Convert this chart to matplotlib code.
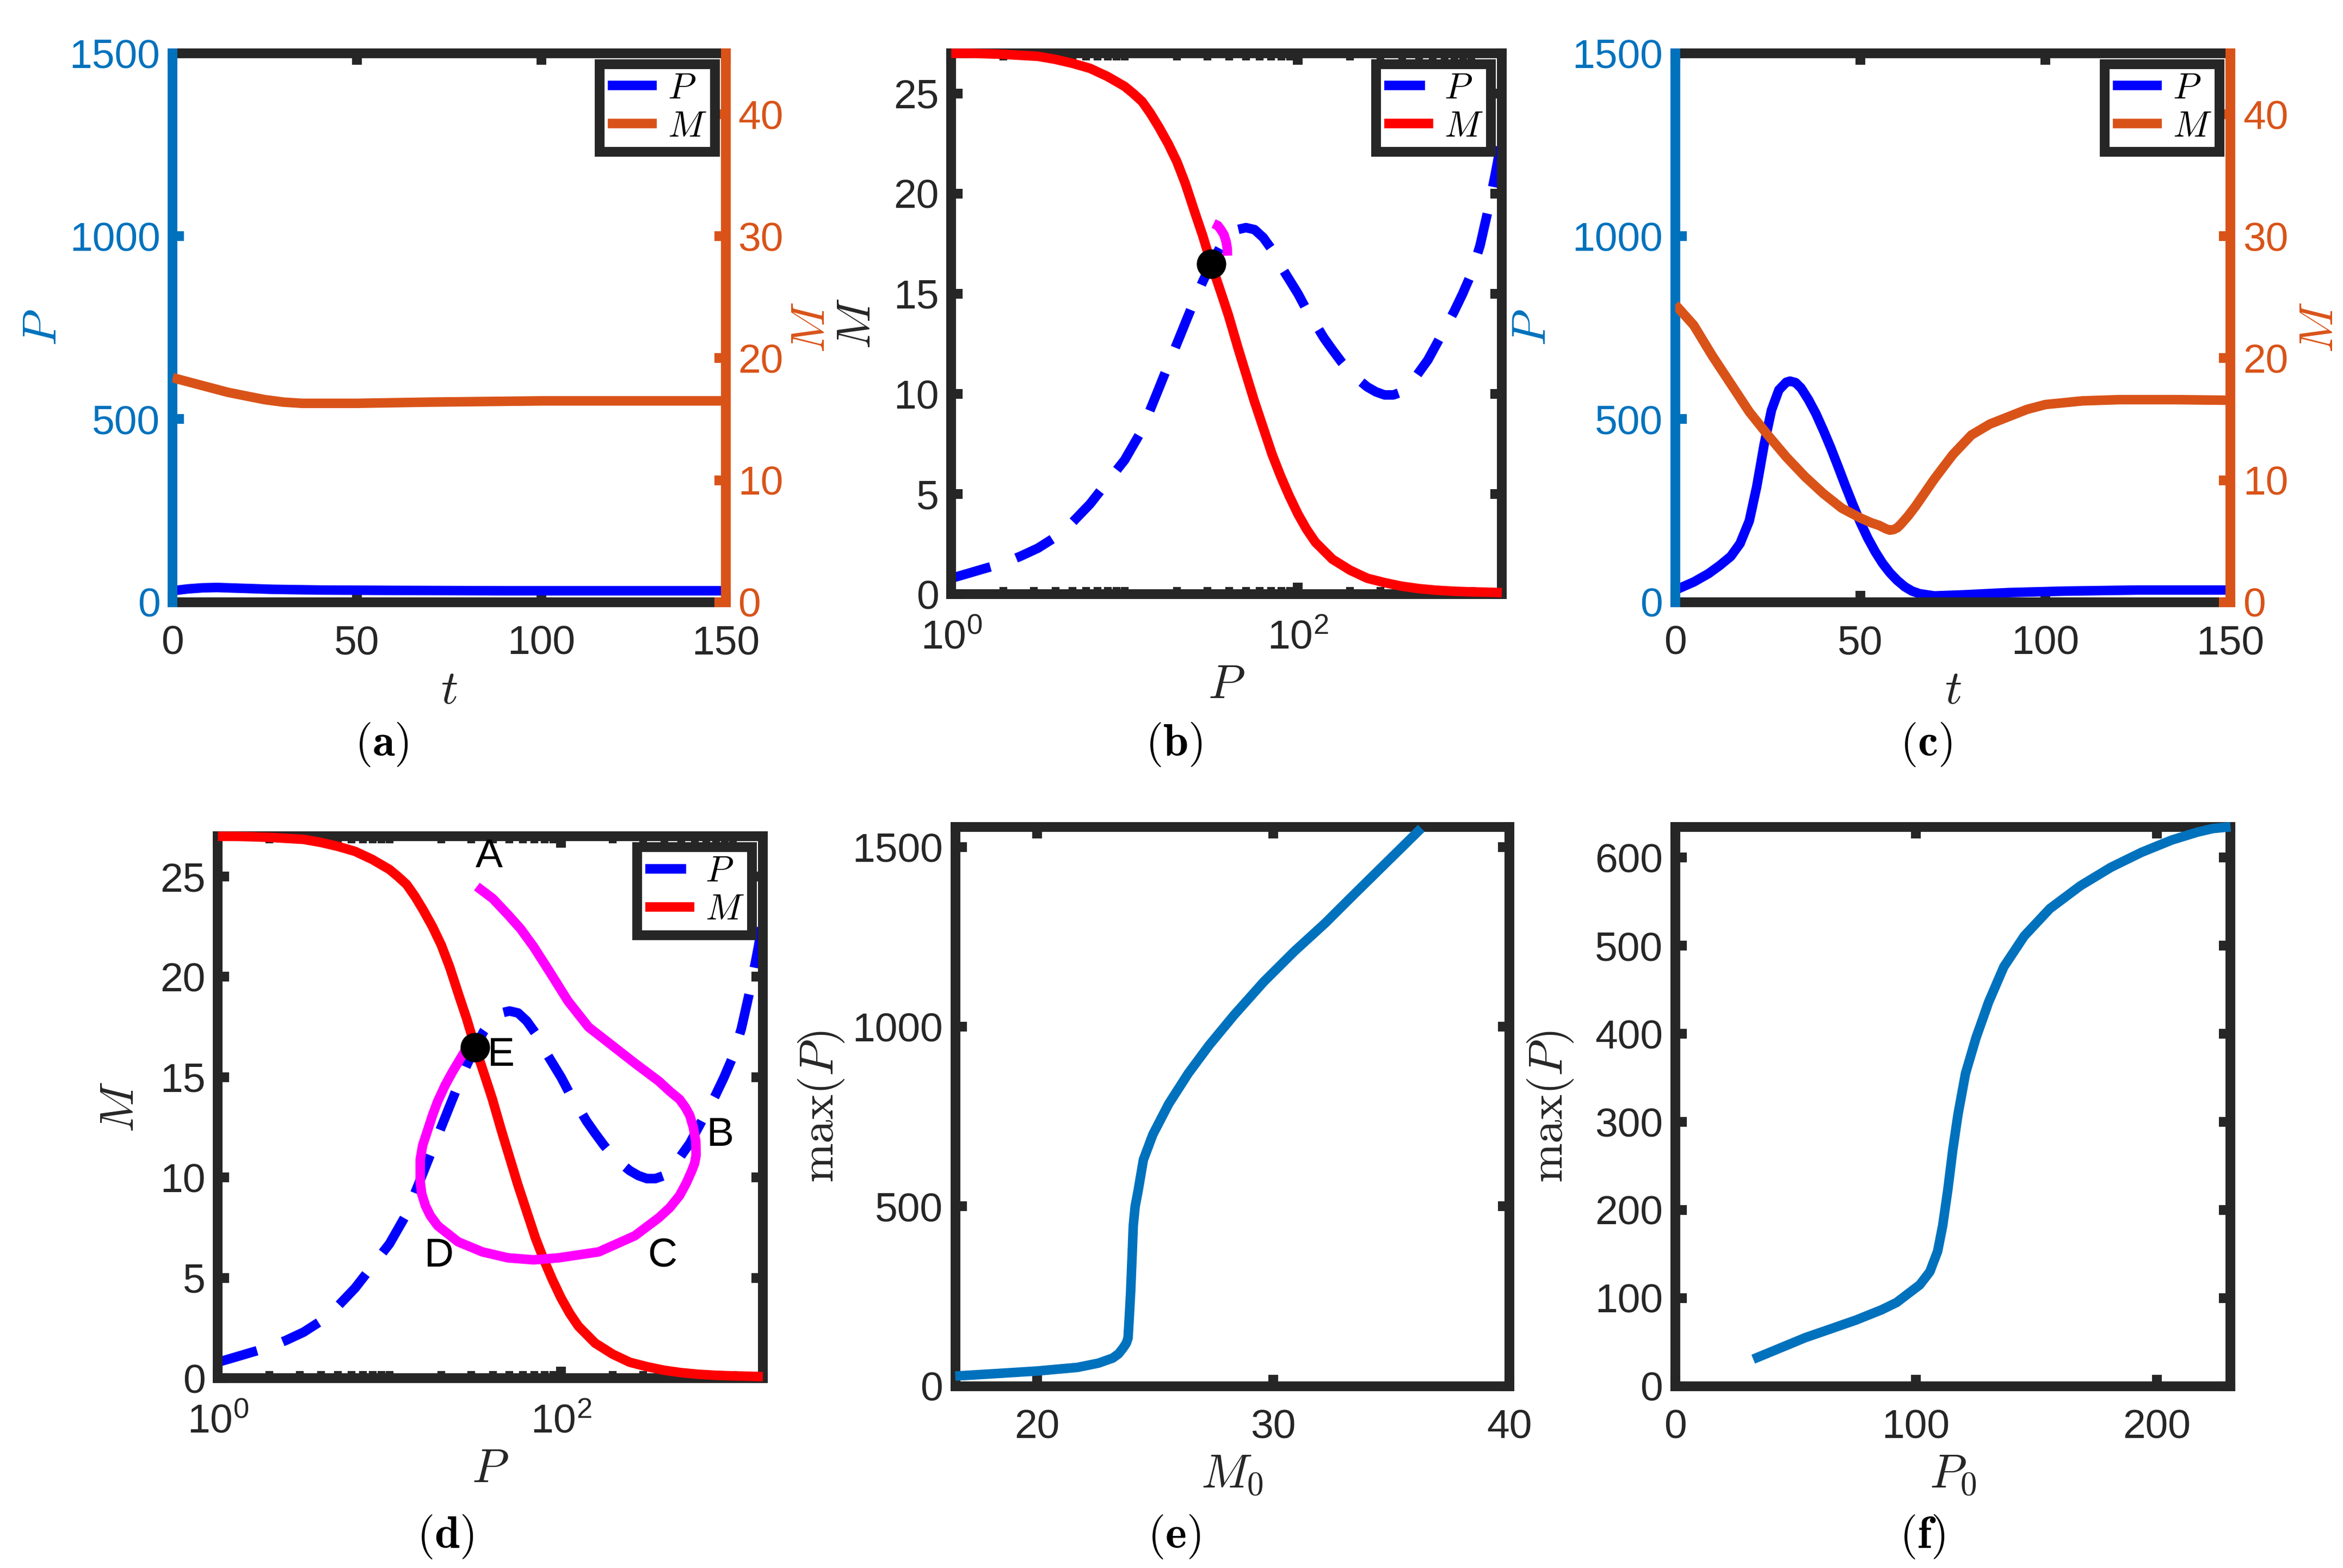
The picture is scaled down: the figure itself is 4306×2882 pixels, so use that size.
import matplotlib
matplotlib.use("Agg")
import matplotlib.pyplot as plt
import numpy as np
from matplotlib.ticker import LogLocator, NullFormatter, FuncFormatter

# ---------------- data ----------------
# (a) time course, near the steady state
A_T_P = [0, 4, 8, 12, 18, 27, 40, 60, 90, 120, 150]
A_P = [31, 36, 39, 40, 38, 35, 33, 32, 31, 31, 31]
A_T_M = [0, 5, 10, 15, 20, 25, 30, 35, 40, 50, 70, 100, 150]
A_M = [18.4, 18.0, 17.6, 17.2, 16.9, 16.6, 16.4, 16.3, 16.3, 16.3, 16.4, 16.5, 16.5]

# (c) time course, excursion
C_T_P = [0, 5, 9, 12, 15, 17.5, 20, 22, 24, 26, 28, 30, 31, 32.5, 34, 36, 38, 40, 42,
         44, 46, 48, 50, 52, 54, 56, 58, 60, 62, 64, 66, 70, 78, 90, 105, 125, 150]
C_P = [33, 55, 78, 100, 125, 160, 222, 315, 430, 525, 580, 601, 604, 600, 585, 553,
       515, 470, 422, 370, 317, 266, 218, 175, 138, 106, 80, 59, 42, 30, 23, 17, 20,
       26, 30, 33, 33]
C_T_M = [0, 5, 10, 15, 20, 25, 30, 35, 40, 45, 50, 53, 55, 57, 58, 59, 60, 61, 63, 65,
         67.5, 70, 75, 80, 85, 90, 95, 100, 110, 120, 135, 150]
C_M = [24.4, 22.7, 20.2, 17.9, 15.6, 13.7, 11.9, 10.3, 8.9, 7.7, 6.9, 6.5, 6.3, 6.0,
       5.9, 5.95, 6.1, 6.4, 7.1, 7.9, 9.0, 10.1, 12.1, 13.7, 14.6, 15.2, 15.8, 16.2,
       16.5, 16.6, 16.6, 16.55]

# (b), (d) nullclines in the (P, M) plane
NC_M_P = [1, 1.26, 1.58, 2.0, 2.51, 3.16, 3.98, 5.01, 6.31, 7.94, 10, 11.2, 12.6,
          14.1, 15.8, 17.8, 20, 22.4, 25.1, 28.2, 31.6, 35.5, 39.8, 44.7, 50.1, 56.2,
          63.1, 70.8, 79.4, 89.1, 100, 112, 126, 158, 200, 251, 316, 398, 501, 631,
          794, 1000, 1259, 1500]
NC_M_M = [27.0, 27.0, 26.98, 26.95, 26.9, 26.85, 26.7, 26.5, 26.25, 25.85, 25.35,
          25.0, 24.6, 24.0, 23.3, 22.5, 21.6, 20.5, 19.2, 17.9, 16.5, 15.2, 13.9, 12.4,
          11.0, 9.6, 8.3, 7.0, 5.9, 4.9, 4.0, 3.25, 2.6, 1.75, 1.2, 0.8, 0.58, 0.4,
          0.28, 0.2, 0.15, 0.12, 0.1, 0.08]
NC_P_P = [1, 1.26, 1.58, 2.0, 2.51, 3.16, 3.98, 5.01, 6.31, 7.94, 10, 12.6, 15.8, 20,
          25.1, 28.2, 31.6, 35.5, 39.8, 44.7, 50.1, 56.2, 63.1, 70.8, 79.4, 89.1, 100,
          112, 126, 141, 158, 178, 200, 224, 251, 282, 316, 355, 398, 447, 501, 562,
          631, 708, 794, 891, 1000, 1122, 1259, 1413, 1500]
NC_P_M = [0.8, 1.05, 1.3, 1.55, 1.9, 2.3, 2.85, 3.6, 4.5, 5.6, 6.7, 8.2, 10.3, 12.5,
          14.6, 15.6, 16.5, 17.3, 17.9, 18.2, 18.3, 18.2, 17.8, 17.2, 16.4, 15.7, 15.0,
          14.2, 13.5, 12.8, 12.2, 11.6, 11.1, 10.7, 10.35, 10.1, 9.95, 9.95, 10.1,
          10.5, 11.1, 11.7, 12.5, 13.3, 14.1, 15.0, 16.0, 17.4, 19.3, 21.5, 22.8]
FIXED_P, FIXED_M = 31.6, 16.5

# short trajectory in (b)
B_TRAJ_P = [32.6, 34.5, 35.9, 37.4, 38.5, 39.1, 39.2]
B_TRAJ_M = [18.5, 18.4, 18.2, 17.95, 17.6, 17.25, 16.9]

# large excursion loop in (d)
D_TRAJ_P = [32.3, 40.0, 49.0, 58.0, 69.2, 85.1, 109.6, 144.5, 190.5, 269, 371.5, 430,
            490, 530, 562, 590, 610, 612, 600, 575, 535, 490, 430, 371.5, 269, 166,
            96.6, 69.2, 49.0, 34.7, 25.1, 19.1, 17.3, 16.2, 15.4, 15.1, 15.1, 15.6,
            16.6, 17.8, 19.1, 21.1, 23.4, 27.5, 30.5]
D_TRAJ_M = [24.5, 23.9, 23.1, 22.4, 21.5, 20.3, 18.8, 17.5, 16.7, 15.7, 14.8, 14.3,
            13.9, 13.5, 13.1, 12.5, 11.8, 11.1, 10.7, 10.3, 9.7, 9.1, 8.5, 8.0, 7.1,
            6.3, 6.0, 5.9, 6.0, 6.3, 6.8, 7.6, 8.1, 8.6, 9.2, 9.8, 10.9, 11.6, 12.3,
            13.1, 13.8, 14.6, 15.3, 16.3, 16.7]
D_LABELS = ["A", "B", "C", "D", "E"]
D_LABEL_P = [38, 851, 389, 19.5, 44.7]
D_LABEL_M = [26.0, 12.1, 6.1, 6.1, 16.1]

# (e) peak P vs initial M
E_M0 = [16.53, 18.3, 20, 21.7, 22.6, 23.2, 23.45, 23.64, 23.78, 23.85, 23.9, 23.96,
        24.02, 24.07, 24.15, 24.28, 24.5, 24.9, 25.57, 26.4, 27.28, 28.35, 29.6, 30.9,
        32.2, 33.5, 34.8, 36.27]
E_MAXP = [28, 35, 42, 52, 64, 78, 90, 106, 120, 134, 190, 262, 360, 446, 500, 545, 630,
          700, 785, 870, 948, 1033, 1125, 1210, 1288, 1373, 1457, 1552]

# (f) peak P vs initial P
F_P0 = [32.4, 43.4, 54, 64.6, 75.1, 85.7, 92, 96.3, 101.6, 105.8, 109, 111.1, 113.2,
        115.3, 117.5, 120.6, 124.9, 130.2, 136.5, 145, 155.6, 168.3, 181, 193.7, 206.3,
        217, 223.3, 230.7]
F_MAXP = [30.6, 43, 55, 65, 75, 86.6, 95, 104, 115, 130, 153, 182, 222, 268, 309, 355,
          395, 436, 476, 511, 542, 568, 589, 606, 620, 629, 633, 635]

# ---------------- style ----------------
AX_C = "#262626"
MBLUE = "#0072BD"
MORANGE = "#D95319"
LW = 4.2
SPW = 4.3
TICK_L = 5.0
TICK_FS = 18
LABEL_FS = 21
LEG_FS = 16
DASH = (18, 12)
XPAD = 10
YPAD = 5.5

plt.rcParams.update({
    "font.family": ["Liberation Sans", "DejaVu Sans"],
    "mathtext.fontset": "cm",
    "lines.scale_dashes": False,
    "lines.solid_capstyle": "butt",
    "lines.dash_capstyle": "butt",
    "lines.solid_joinstyle": "round",
})

fig = plt.figure(figsize=(4306 / 300, 2882 / 300), dpi=300)


def style_box(ax):
    for sp in ax.spines.values():
        sp.set_linewidth(SPW)
        sp.set_color(AX_C)
    ax.tick_params(which="major", direction="in", top=True, right=True,
                   length=TICK_L, width=SPW, colors=AX_C, labelsize=TICK_FS, pad=YPAD)
    ax.tick_params(which="minor", direction="in", top=True, right=True,
                   length=3.2, width=SPW * 0.8, colors=AX_C)
    ax.tick_params(axis="x", which="major", pad=XPAD)


def legend(ax, handles):
    leg = ax.legend(handles=handles, loc="upper right", fontsize=LEG_FS,
                    handlelength=1.35, handletextpad=0.3, borderpad=0.22,
                    labelspacing=0.12, borderaxespad=0.3, fancybox=False,
                    framealpha=1, edgecolor=AX_C)
    leg.get_frame().set_linewidth(SPW)
    return leg


def time_panel(rect, tP, P, tM, M, lpad_left, lpad_right):
    ax = fig.add_axes(rect)
    ax2 = ax.twinx()
    lp, = ax.plot(tP, P, color="blue", lw=LW, label="$P$")
    lm, = ax2.plot(tM, M, color=MORANGE, lw=LW, label="$M$")
    ax.set_xlim(0, 150)
    ax.set_ylim(0, 1500)
    ax2.set_ylim(0, 45)
    ax.set_xticks([0, 50, 100, 150])
    ax.set_yticks([0, 500, 1000, 1500])
    ax2.set_yticks([0, 10, 20, 30, 40])

    ax.spines["right"].set_visible(False)
    for k in ("top", "bottom"):
        ax.spines[k].set_color(AX_C)
        ax.spines[k].set_linewidth(SPW)
        ax2.spines[k].set_visible(False)
    ax.spines["left"].set_color(MBLUE)
    ax.spines["left"].set_linewidth(SPW)
    ax.spines["left"].set_zorder(3)
    ax2.spines["left"].set_visible(False)
    ax2.spines["right"].set_color(MORANGE)
    ax2.spines["right"].set_linewidth(SPW)

    ax.tick_params(axis="x", direction="in", top=True, bottom=True, length=TICK_L,
                   width=SPW, colors=AX_C, labelsize=TICK_FS, pad=XPAD)
    ax.tick_params(axis="y", direction="in", left=True, right=False, length=TICK_L,
                   width=SPW, colors=MBLUE, labelsize=TICK_FS, pad=YPAD)
    ax2.tick_params(axis="y", direction="in", right=True, left=False, length=TICK_L,
                    width=SPW, colors=MORANGE, labelsize=TICK_FS, pad=YPAD)

    ax.set_xlabel("$t$", fontsize=LABEL_FS, color=AX_C, labelpad=3)
    ax.set_ylabel("$P$", fontsize=LABEL_FS, color=MBLUE, labelpad=lpad_left)
    ax2.set_ylabel("$M$", fontsize=LABEL_FS, color=MORANGE, labelpad=lpad_right)
    legend(ax2, [lp, lm])
    return ax, ax2


def log_label(v, pos):
    return r"$\mathregular{10^{%d}}$" % int(round(np.log10(v)))


def phase_panel(rect, trajP, trajM, lpad):
    ax = fig.add_axes(rect)
    lb, = ax.plot(NC_P_P, NC_P_M, color="blue", lw=LW, dashes=DASH, label="$P$")
    lr, = ax.plot(NC_M_P, NC_M_M, color="red", lw=LW, label="$M$", zorder=3,
                  clip_on=False)
    ax.plot(trajP, trajM, color="magenta", lw=LW, zorder=3.2)
    ax.plot([FIXED_P], [FIXED_M], "o", color="black", markersize=12, zorder=4)
    ax.set_xscale("log")
    ax.set_xlim(1, 1500)
    ax.set_ylim(0, 27)
    ax.xaxis.set_major_locator(LogLocator(base=100))
    ax.xaxis.set_major_formatter(FuncFormatter(log_label))
    ax.xaxis.set_minor_locator(LogLocator(base=10, subs=np.arange(1, 10), numticks=30))
    ax.xaxis.set_minor_formatter(NullFormatter())
    ax.set_yticks([0, 5, 10, 15, 20, 25])
    style_box(ax)
    ax.tick_params(axis="x", which="major", pad=11)
    ax.set_xlabel("$P$", fontsize=LABEL_FS, color=AX_C, labelpad=3)
    ax.set_ylabel("$M$", fontsize=LABEL_FS, color=AX_C, labelpad=lpad)
    legend(ax, [lb, lr])
    return ax


# (a)
time_panel([0.0737, 0.616, 0.236, 0.350], A_T_P, A_P, A_T_M, A_M, 1.5, 3)
# (b)
phase_panel([0.406, 0.621, 0.235, 0.345], B_TRAJ_P, B_TRAJ_M, 6)
# (c)
time_panel([0.715, 0.616, 0.237, 0.350], C_T_P, C_P, C_T_M, C_M, 7.5, 4.5)
# (d)
axd = phase_panel([0.093, 0.121, 0.2326, 0.3456], D_TRAJ_P, D_TRAJ_M, 7.5)
for lab, px, my in zip(D_LABELS, D_LABEL_P, D_LABEL_M):
    axd.text(px, my, lab, fontsize=TICK_FS, color="black", ha="center", va="center",
             zorder=5)

# (e)
axe = fig.add_axes([0.4077, 0.116, 0.2365, 0.3567])
axe.plot(E_M0, E_MAXP, color=MBLUE, lw=LW, zorder=3, clip_on=False)
axe.set_xlim(16.53, 40)
axe.set_ylim(0, 1556)
axe.set_xticks([20, 30, 40])
axe.set_yticks([0, 500, 1000, 1500])
style_box(axe)
axe.set_xlabel("$M_0$", fontsize=LABEL_FS, color=AX_C, labelpad=3)
axe.set_ylabel(r"$\max(P)$", fontsize=LABEL_FS, color=AX_C, labelpad=2.5)

# (f)
axf = fig.add_axes([0.715, 0.116, 0.237, 0.3567])
axf.plot(F_P0, F_MAXP, color=MBLUE, lw=LW, zorder=3, clip_on=False)
axf.set_xlim(0, 230.7)
axf.set_ylim(0, 635)
axf.set_xticks([0, 100, 200])
axf.set_yticks([0, 100, 200, 300, 400, 500, 600])
style_box(axf)
axf.set_xlabel("$P_0$", fontsize=LABEL_FS, color=AX_C, labelpad=3)
axf.set_ylabel(r"$\max(P)$", fontsize=LABEL_FS, color=AX_C, labelpad=8.5)

# sub-figure captions
caps = [("a", 0.163, 0.525), ("b", 0.501, 0.525), ("c", 0.822, 0.525),
        ("d", 0.190, 0.020), ("e", 0.501, 0.020), ("f", 0.8205, 0.020)]
for letter, x, y in caps:
    fig.text(x, y, r"$(\mathbf{%s})$" % letter, fontsize=20, ha="center",
             va="center", color="black")

fig.savefig("out.png", dpi=300)
